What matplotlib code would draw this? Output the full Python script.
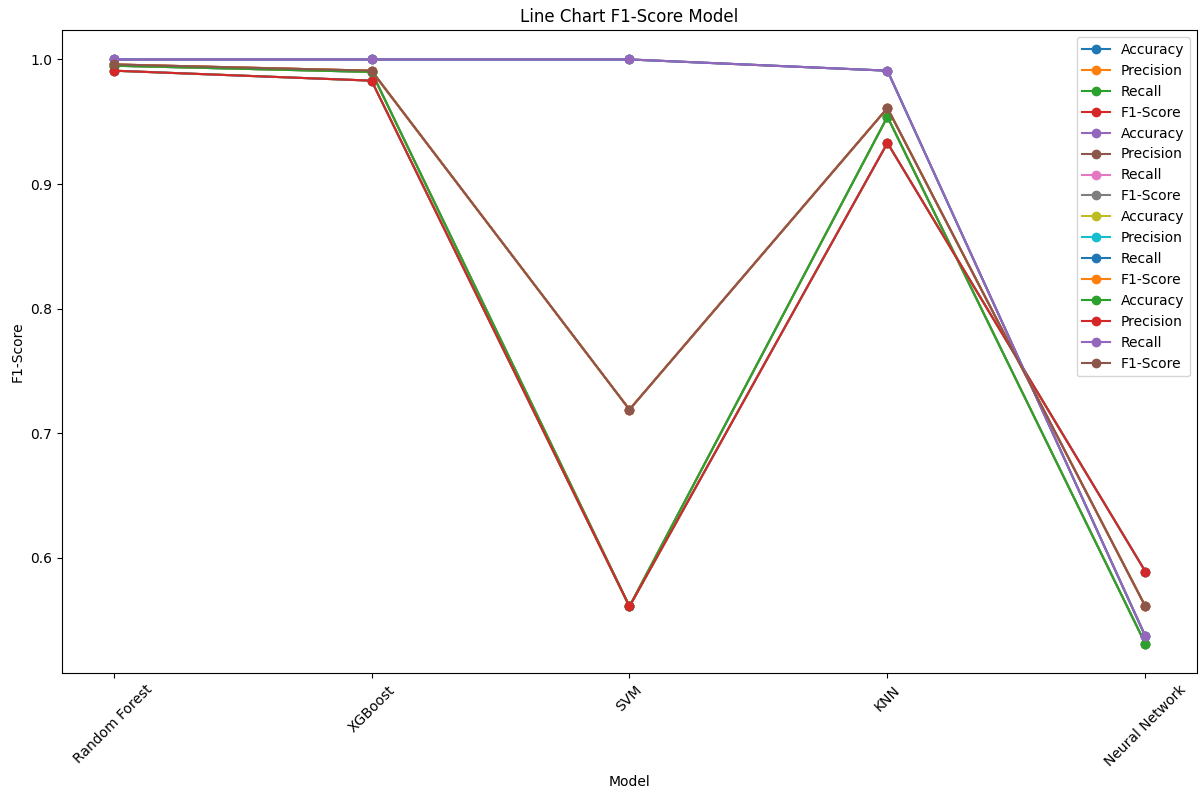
import matplotlib
matplotlib.use("Agg")
import matplotlib.pyplot as plt
import pandas as pd

models = ["Random Forest", "XGBoost", "SVM", "KNN", "Neural Network"]
accuracy = [0.995, 0.990, 0.561, 0.954, 0.531]
precision = [0.991, 0.983, 0.561, 0.933, 0.589]
recall = [1.000, 1.000, 1.000, 0.991, 0.537]
f1_score = [0.996, 0.991, 0.719, 0.961, 0.561]

df = pd.DataFrame({
    "Accuracy": accuracy,
    "Precision": precision,
    "Recall": recall,
    "F1-Score": f1_score,
}, index=models)

fig = plt.figure(figsize=(12.03, 7.96), dpi=100)
ax = fig.add_subplot(111)

# one pass per metric chart, all drawn on the same axes
for metric in ["Accuracy", "Precision", "Recall", "F1-Score"]:
    for col in df.columns:
        ax.plot(df.index, df[col], marker='o', label=col)

ax.set_title("Line Chart F1-Score Model")
ax.set_xlabel("Model")
ax.set_ylabel("F1-Score")
ax.legend(loc="upper right")
plt.xticks(rotation=45)
fig.subplots_adjust(left=0.0515, right=0.995, top=0.962, bottom=0.1545)
fig.savefig("out.png", dpi=100)
